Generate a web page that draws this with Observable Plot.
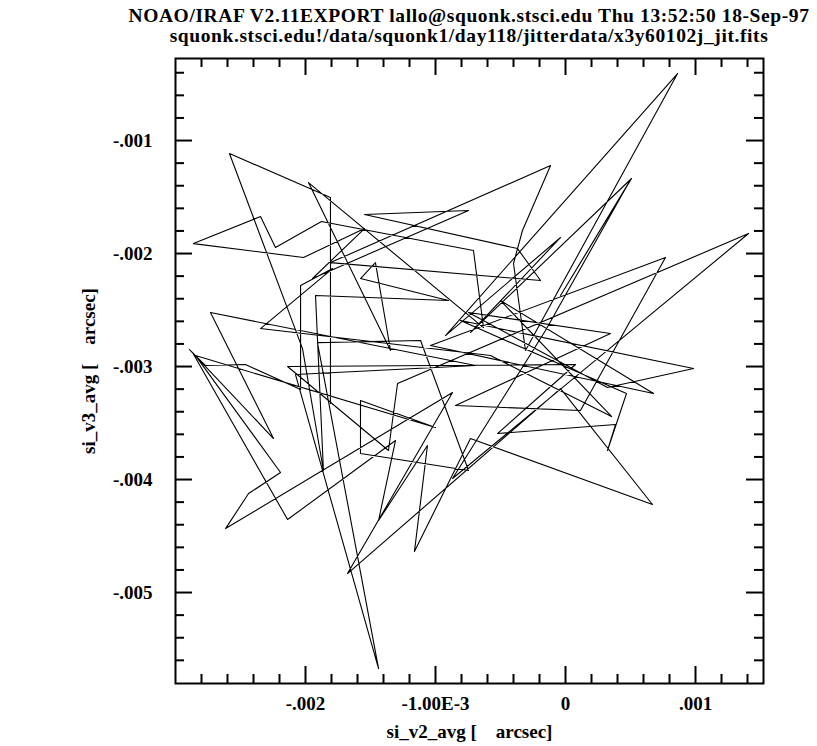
<!DOCTYPE html>
<html>
<head>
<meta charset="utf-8">
<script src="https://cdn.jsdelivr.net/npm/d3@7"></script>
<script src="https://cdn.jsdelivr.net/npm/@observablehq/plot@0.6"></script>
<style>
  body { margin: 0; background: #fff; }
  #wrap { position: relative; width: 817px; height: 746px; overflow: hidden; }
  .ttl { position: absolute; left: 469px; transform: translateX(-50%); white-space: pre;
         font-family: "Liberation Serif", "Times New Roman", serif; font-weight: bold;
         font-size: 19.5px; letter-spacing: 0.6px; color: #000; line-height: 20px; height: 20px; }
  #chart { position: absolute; left: 0; top: 46px; }
</style>
</head>
<body>
<div id="wrap">
  <div class="ttl" id="t1" style="top:6px">NOAO/IRAF V2.11EXPORT lallo@squonk.stsci.edu Thu 13:52:50 18-Sep-97</div>
  <div class="ttl" id="t2" style="top:26px">squonk.stsci.edu!/data/squonk1/day118/jitterdata/x3y60102j_jit.fits</div>
  <div id="chart"></div>
</div>
<script>
// jitter path: si_v2_avg and si_v3_avg (arcsec)
const v2 = [
  -1.808e-3, -1.808e-3, -2.585e-3, -2.023e-3, -1.862e-3, -1.923e-3, -0.900e-3, -1.577e-3, -1.462e-3, -1.346e-3,
  -1.977e-3, -0.631e-3, -0.708e-3, -1.877e-3, -2.231e-3, -2.346e-3, -2.862e-3, -2.015e-3, -1.546e-3, -1.946e-3,
  -0.746e-3, -1.546e-3, -0.369e-3, -0.192e-3, -1.808e-3, -0.115e-3, -0.331e-3, -0.400e-3, -0.308e-3, 0.862e-3,
  -0.923e-3, -0.038e-3, -0.731e-3, 0.508e-3, -0.038e-3, 0.492e-3, -0.154e-3, -0.869e-3, 1.408e-3, -1.292e-3,
  -1.362e-3, -2.138e-3, 0.077e-3, -0.523e-3, 0.385e-3, 0.323e-3, 0.469e-3, -0.808e-3, 0.985e-3, 0.323e-3,
  -0.746e-3, 0.346e-3, -0.846e-3, 0.115e-3, 0.769e-3, -1.038e-3, 0.677e-3, -0.500e-3, 0.354e-3, -0.577e-3,
  -2.346e-3, -1.792e-3, -2.038e-3, -2.038e-3, -2.462e-3, -2.769e-3, -2.892e-3, -2.246e-3, -2.731e-3, -0.692e-3,
  -2.077e-3, -1.438e-3, -1.908e-3, -1.115e-3, -0.746e-3, -1.577e-3, -1.577e-3, -1.000e-3, -2.846e-3, -2.192e-3,
  -2.438e-3, -2.615e-3, -0.869e-3, -1.677e-3, -0.038e-3, 0.669e-3, -0.731e-3, -1.162e-3, -1.062e-3, -1.438e-3,
  -1.308e-3, -2.138e-3, -2.869e-3
];
const v3 = [
  -3.327e-3, -1.504e-3, -1.115e-3, -2.841e-3, -3.920e-3, -2.372e-3, -2.416e-3, -2.221e-3, -2.080e-3, -2.858e-3,
  -1.372e-3, -2.655e-3, -1.973e-3, -1.717e-3, -1.947e-3, -1.673e-3, -1.912e-3, -2.035e-3, -1.779e-3, -2.221e-3,
  -1.619e-3, -1.655e-3, -1.956e-3, -2.239e-3, -2.080e-3, -1.221e-3, -1.796e-3, -2.088e-3, -2.858e-3, -0.407e-3,
  -2.726e-3, -1.858e-3, -2.699e-3, -1.336e-3, -2.372e-3, -1.363e-3, -2.681e-3, -3.991e-3, -1.823e-3, -3.150e-3,
  -3.743e-3, -3.000e-3, -2.982e-3, -3.593e-3, -3.513e-3, -3.743e-3, -3.239e-3, -2.593e-3, -3.018e-3, -3.186e-3,
  -2.522e-3, -2.708e-3, -3.345e-3, -3.389e-3, -2.035e-3, -2.814e-3, -3.239e-3, -2.416e-3, -3.442e-3, -2.903e-3,
  -2.664e-3, -2.133e-3, -2.283e-3, -3.204e-3, -2.982e-3, -2.991e-3, -2.850e-3, -3.637e-3, -2.522e-3, -2.991e-3,
  -3.071e-3, -5.673e-3, -2.788e-3, -2.770e-3, -3.920e-3, -3.770e-3, -3.301e-3, -3.540e-3, -2.903e-3, -3.938e-3,
  -4.124e-3, -4.434e-3, -3.230e-3, -4.832e-3, -3.195e-3, -4.221e-3, -3.637e-3, -4.637e-3, -3.699e-3, -4.363e-3,
  -3.655e-3, -4.354e-3, -2.876e-3
];

const xMajor = [-0.002, -0.001, 0, 0.001];
const xMajorLabels = ["-.002", "-1.00E-3", "0", ".001"];
const xMinor = [-0.0028, -0.0026, -0.0024, -0.0022, -0.0018, -0.0016, -0.0014, -0.0012,
                -0.0008, -0.0006, -0.0004, -0.0002, 0.0002, 0.0004, 0.0006, 0.0008, 0.0012, 0.0014];
const yMajor = [-0.001, -0.002, -0.003, -0.004, -0.005];
const yMajorLabels = ["-.001", "-.002", "-.003", "-.004", "-.005"];
const yMinor = [-0.0004, -0.0006, -0.0008, -0.0012, -0.0014, -0.0016, -0.0018, -0.0022, -0.0024, -0.0026, -0.0028,
                -0.0032, -0.0034, -0.0036, -0.0038, -0.0042, -0.0044, -0.0046, -0.0048, -0.0052, -0.0054, -0.0056];
const xDomain = [-0.003, 0.001523];
const yDomain = [-0.005805, -0.000274];
const xTitle = "si_v2_avg [\u00a0\u00a0\u00a0\u00a0arcsec]";
const yTitle = "si_v3_avg [\u00a0\u00a0\u00a0\u00a0arcsec]";

const pts = v2.map((x, i) => ({x, y: v3[i]}));

const W = 817, H = 700;
const mT = 12, mB = 63, mL = 175, mR = 54;
const fw = W - mL - mR, fh = H - mT - mB;
const majLen = 17, minLen = 9;
const font = "'Liberation Serif', 'Times New Roman', serif";

const chart = Plot.plot({
  width: W, height: H,
  marginTop: mT, marginBottom: mB, marginLeft: mL, marginRight: mR,
  style: {fontFamily: font, fontWeight: "bold", fontSize: "19px", color: "#000", background: "#fff"},
  x: {domain: xDomain},
  y: {domain: yDomain},
  marks: [
    Plot.line(pts, {x: "x", y: "y", stroke: "#000", strokeWidth: 1.1, curve: "linear"}),
    // inward ticks, bottom & top
    Plot.ruleX(xMajor, {stroke: "#000", strokeWidth: 2, insetTop: fh - majLen}),
    Plot.ruleX(xMajor, {stroke: "#000", strokeWidth: 2, insetBottom: fh - majLen}),
    Plot.ruleX(xMinor, {stroke: "#000", strokeWidth: 2, insetTop: fh - minLen}),
    Plot.ruleX(xMinor, {stroke: "#000", strokeWidth: 2, insetBottom: fh - minLen}),
    // inward ticks, left & right
    Plot.ruleY(yMajor, {stroke: "#000", strokeWidth: 2, insetRight: fw - majLen}),
    Plot.ruleY(yMajor, {stroke: "#000", strokeWidth: 2, insetLeft: fw - majLen}),
    Plot.ruleY(yMinor, {stroke: "#000", strokeWidth: 2, insetRight: fw - minLen}),
    Plot.ruleY(yMinor, {stroke: "#000", strokeWidth: 2, insetLeft: fw - minLen}),
    Plot.frame({stroke: "#000", strokeWidth: 2}),
    Plot.axisX({ticks: xMajor, tickSize: 0, tickPadding: 13, label: null,
      tickFormat: (d) => xMajorLabels[xMajor.indexOf(d)], fontSize: 19, fontWeight: "bold"}),
    Plot.axisY({ticks: yMajor, tickSize: 0, tickPadding: 23, label: null,
      tickFormat: (d) => yMajorLabels[yMajor.indexOf(d)], fontSize: 19, fontWeight: "bold"}),
    Plot.text([xTitle], {text: (d) => d, frameAnchor: "bottom", textAnchor: "middle", lineAnchor: "middle",
      dy: 48, fontSize: 19, fontWeight: "bold", fill: "#000"}),
    Plot.text([yTitle], {text: (d) => d, frameAnchor: "left", textAnchor: "middle", lineAnchor: "middle",
      dx: -87, rotate: -90, fontSize: 19, fontWeight: "bold", fill: "#000"})
  ]
});
document.getElementById("chart").appendChild(chart);
</script>
</body>
</html>
